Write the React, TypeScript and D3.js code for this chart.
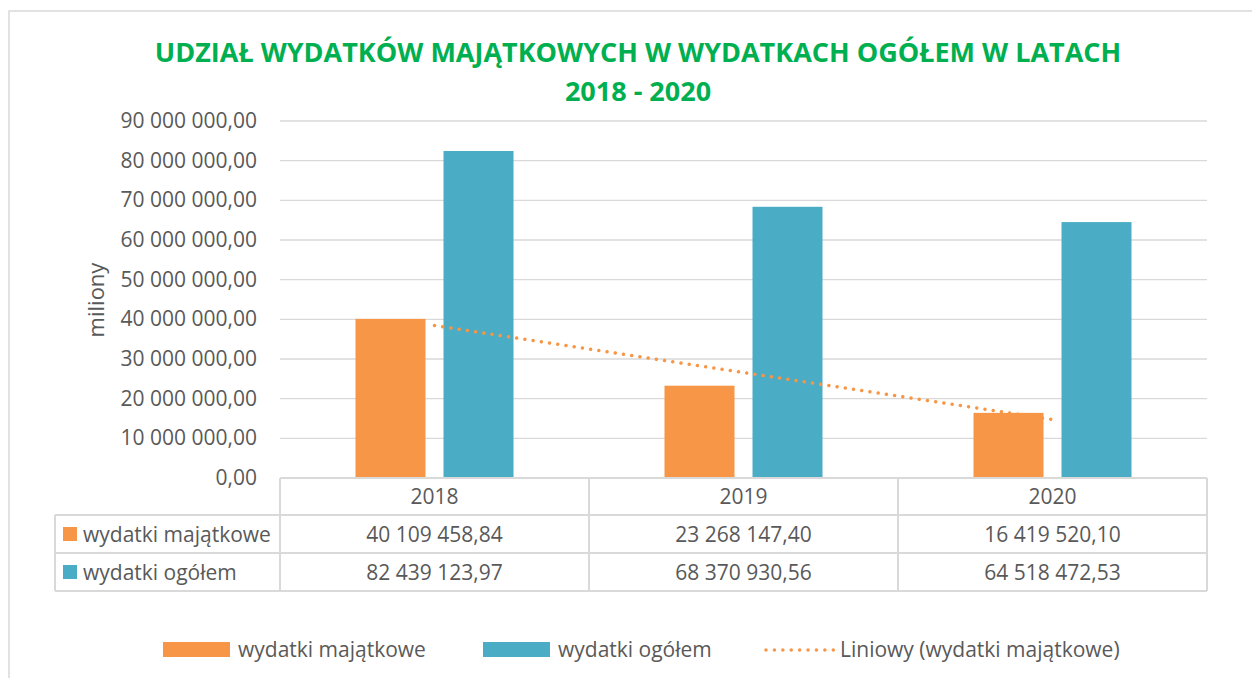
import React from "react";
import * as d3 from "d3";

const years = ["2018", "2019", "2020"];
const majatkowe = [40109458.84, 23268147.4, 16419520.1];
const ogolem = [82439123.97, 68370930.56, 64518472.53];
const seriesNames = ["wydatki majątkowe", "wydatki ogółem"];
const yTicks = [0, 10000000, 20000000, 30000000, 40000000, 50000000, 60000000, 70000000, 80000000, 90000000];
const titleLines = ["UDZIAŁ WYDATKÓW MAJĄTKOWYCH W WYDATKACH OGÓŁEM W LATACH", "2018 - 2020"];
const trendName = "Liniowy (wydatki majątkowe)";
const yAxisTitle = "miliony";

const W = 1252, H = 678;
const ORANGE = "#F79646", TEAL = "#4BACC6", GRID = "#D9D9D9", TXT = "#595959", GREEN = "#00B050";
const FONT = "'Open Sans', Lato, sans-serif";
const FS = 21;

function fmt(v: number) {
  const [int, dec] = v.toFixed(2).split(".");
  const g = int.replace(/\B(?=(\d{3})+(?!\d))/g, " ");
  return g + "," + dec;
}

export default function App() {
  const left = 280, right = 1207, top = 121, bottom = 478;
  const y = d3.scaleLinear().domain([0, 90000000]).range([bottom, top]);
  const x = d3.scaleBand().domain(years).range([left, right]).padding(0);
  const bw = x.bandwidth();
  const barW = 70, off = 44;
  const series = [majatkowe, ogolem];
  const colors = [ORANGE, TEAL];

  // linear trend (least squares)
  const n = majatkowe.length;
  const xs = majatkowe.map((_, i) => i + 1);
  const mx = d3.mean(xs)!, my = d3.mean(majatkowe)!;
  const slope = d3.sum(xs.map((xi, i) => (xi - mx) * (majatkowe[i] - my))) / d3.sum(xs.map((xi) => (xi - mx) ** 2));
  const icpt = my - slope * mx;
  const trendPts: [number, number][] = [
    [x(years[0])! + bw / 2, y(icpt + slope * 1)],
    [x(years[n - 1])! + bw / 2, y(icpt + slope * n)],
  ];

  const rowY = [478, 515, 553, 591];
  const tableLeft = 55;

  return (
    <svg width={W} height={H} style={{ position: "fixed", left: 0, top: 0, background: "#fff" }} fontFamily={FONT}>
      <rect x={9} y={11} width={1300} height={700} fill="#fff" stroke={GRID} strokeWidth={1.5} />
      {titleLines.map((t, i) => (
        <text key={i} x={638} y={62 + i * 39} textAnchor="middle" fill={GREEN} fontWeight="bold" fontSize={27}>{t}</text>
      ))}
      {yTicks.map((t) => (
        <g key={t}>
          {t > 0 && <line x1={left} x2={right} y1={y(t)} y2={y(t)} stroke={GRID} strokeWidth={1.3} />}
          <text x={257} y={y(t) + 7} textAnchor="end" fill={TXT} fontSize={FS}>{fmt(t)}</text>
        </g>
      ))}
      <text transform={`translate(104,300) rotate(-90)`} textAnchor="middle" fill={TXT} fontSize={22}>{yAxisTitle}</text>
      {series.map((s, si) =>
        s.map((v, i) => (
          <rect key={si + "-" + i} x={x(years[i])! + bw / 2 + (si === 0 ? -off : off) - barW / 2} y={y(v)} width={barW} height={bottom - y(v)} fill={colors[si]} />
        ))
      )}
      <line x1={trendPts[0][0]} y1={trendPts[0][1]} x2={trendPts[1][0]} y2={trendPts[1][1]} stroke={ORANGE} strokeWidth={3.5} strokeDasharray="0.01 8.3" strokeLinecap="round" />
      {/* data table */}
      <g stroke={GRID} strokeWidth={2} fill="none">
        <line x1={left} x2={right} y1={rowY[0]} y2={rowY[0]} />
        <line x1={tableLeft} x2={right} y1={rowY[1]} y2={rowY[1]} />
        <line x1={tableLeft} x2={right} y1={rowY[2]} y2={rowY[2]} />
        <line x1={tableLeft} x2={right} y1={rowY[3]} y2={rowY[3]} />
        <line x1={tableLeft} x2={tableLeft} y1={rowY[1]} y2={rowY[3]} />
        {years.map((yr) => (
          <line key={yr} x1={x(yr)!} x2={x(yr)!} y1={rowY[0]} y2={rowY[3]} />
        ))}
        <line x1={right} x2={right} y1={rowY[0]} y2={rowY[3]} />
      </g>
      {years.map((yr) => (
        <text key={yr} x={x(yr)! + bw / 2} y={504} textAnchor="middle" fill={TXT} fontSize={FS}>{yr}</text>
      ))}
      {series.map((s, si) => (
        <g key={si}>
          <rect x={63} y={527 + si * 38} width={14} height={14} fill={colors[si]} />
          <text x={83} y={542 + si * 38} fill={TXT} fontSize={FS}>{seriesNames[si]}</text>
          {s.map((v, i) => (
            <text key={i} x={x(years[i])! + bw / 2} y={542 + si * 38} textAnchor="middle" fill={TXT} fontSize={FS}>{fmt(v)}</text>
          ))}
        </g>
      ))}
      {/* legend */}
      <rect x={163} y={642} width={67} height={15} fill={ORANGE} />
      <text x={238} y={657} fill={TXT} fontSize={FS}>{seriesNames[0]}</text>
      <rect x={483} y={642} width={67} height={15} fill={TEAL} />
      <text x={558} y={657} fill={TXT} fontSize={FS}>{seriesNames[1]}</text>
      <line x1={766} x2={834} y1={650} y2={650} stroke={ORANGE} strokeWidth={3.5} strokeDasharray="0.01 8.4" strokeLinecap="round" />
      <text x={840} y={657} fill={TXT} fontSize={FS}>{trendName}</text>
    </svg>
  );
}
